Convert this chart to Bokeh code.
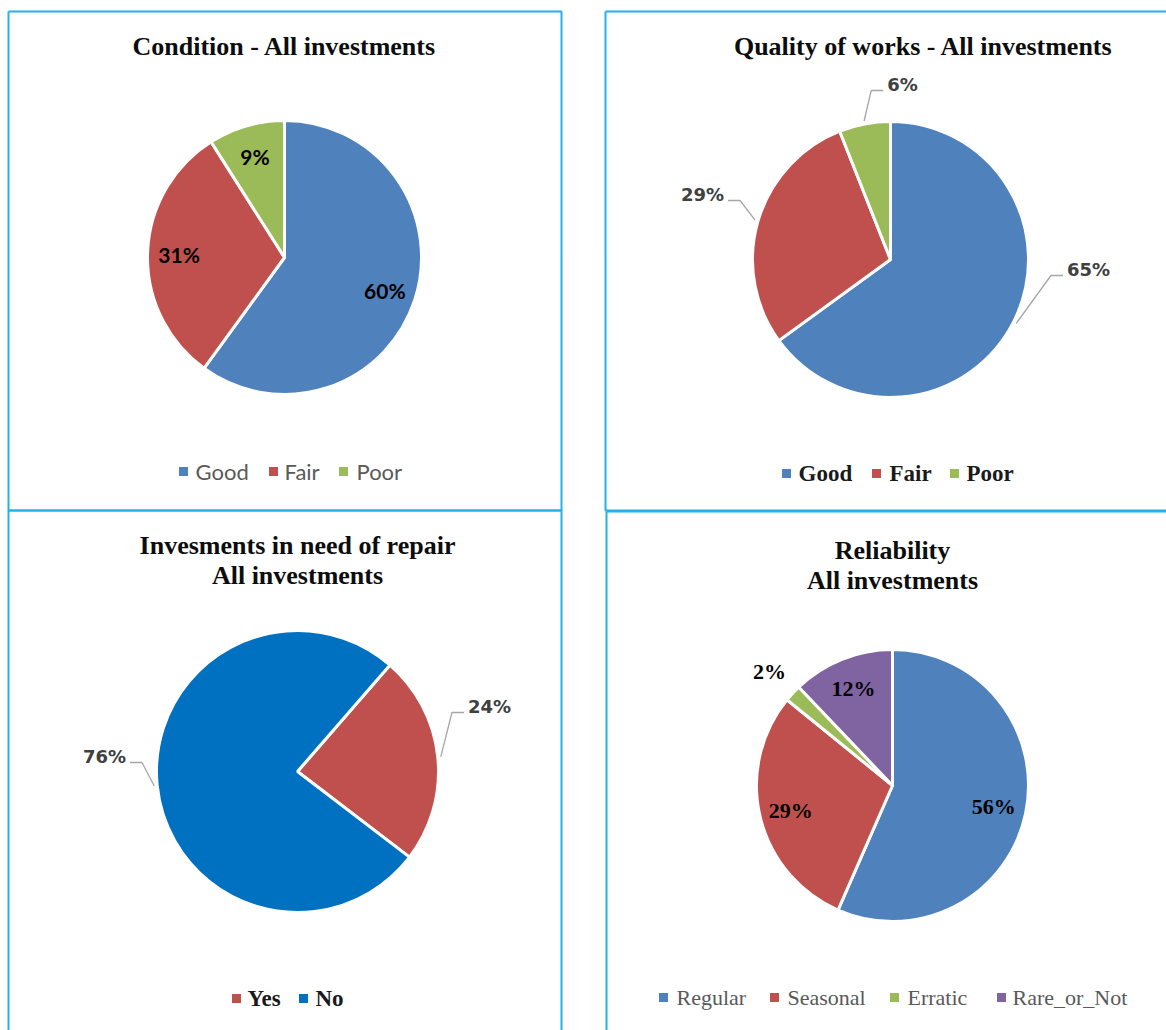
import math
from bokeh.plotting import figure
from bokeh.models import Range1d
from bokeh.core.properties import value
from bokeh.embed import file_html
from bokeh.resources import INLINE

# ---- data -------------------------------------------------------------
condition_labels = ["Good", "Fair", "Poor"]
condition_values = [60, 31, 9]

quality_labels = ["Good", "Fair", "Poor"]
quality_values = [65, 29, 6]

repair_labels = ["Yes", "No"]
repair_values = [24, 76]

reliability_labels = ["Regular", "Seasonal", "Erratic", "Rare_or_Not"]
reliability_values = [56, 29, 2, 12]

# ---- styling ----------------------------------------------------------
BLUE, RED, GREEN, PURPLE, DEEP_BLUE = "#4F81BD", "#C0504D", "#9BBB59", "#8064A2", "#0070C0"
FRAME = "#22B2E6"
W, H = 1166, 1030
SERIF = "Liberation Serif"
TITLE_SIZE = 26


def Y(v):
    """Page coordinates measured from the top."""
    return H - v


p = figure(width=W, height=H, x_range=Range1d(0, W), y_range=Range1d(0, H),
           output_backend="svg", toolbar_location=None, min_border=0)
p.axis.visible = False
p.grid.visible = False
p.outline_line_color = None
p.background_fill_color = "white"

# panel frames
for x0, y0, x1, y1 in [(8, 11, 561, 510), (605, 11, 1175, 510),
                       (8, 510, 561, 1040), (606, 511, 1175, 1040)]:
    p.line([x0, x0, x1, x1, x0], [Y(y0), Y(y1), Y(y1), Y(y0), Y(y0)],
           line_color=FRAME, line_width=2)


def pie(cx, cy, r, values, colors, start_deg=0.0):
    """Draw slices clockwise from 12 o'clock; returns mid-angles (deg, clockwise from top)."""
    total = float(sum(values))
    a = start_deg
    mids = []
    for v, c in zip(values, colors):
        span = 360.0 * v / total
        s = math.radians(90 - a)
        e = math.radians(90 - (a + span))
        p.wedge(x=cx, y=Y(cy), radius=r, start_angle=s, end_angle=e,
                direction="clock", fill_color=c, line_color="white", line_width=3)
        mids.append(a + span / 2)
        a += span
    return mids


def polar(cx, cy, dist, deg):
    t = math.radians(deg)
    return cx + dist * math.sin(t), cy - dist * math.cos(t)


def label(x, y, text, font, size, color="#000000", style="bold", align="center"):
    p.text(x=[x], y=[Y(y)], text=[text], text_font=value(font),
           text_font_size=f"{size}px", text_font_style=style, text_color=color,
           text_align=align, text_baseline="middle")


def legend(items, y, font, size, color, style):
    for sx, tx, name, c in items:
        p.scatter(x=[sx], y=[Y(y)], marker="square", size=9, fill_color=c,
                  line_color=None)
        label(tx, y, name, font, size, color, style, align="left")


def leader_labels(cx, cy, r, mids, texts, anchors, fs):
    for m, t, (lx, ly) in zip(mids, texts, anchors):
        side = 1 if lx > cx else -1
        half = ((len(t) - 1) * 0.696 * fs + 1.0 * fs) / 2
        end_x = lx - side * (half + 4)
        elb_x = end_x - side * 12
        ly_line = ly + 6
        sx, sy = polar(cx, cy, r + 3, m)
        p.line([sx, elb_x, end_x], [Y(sy), Y(ly_line), Y(ly_line)],
               line_color="#A6A6A6", line_width=1.3)
        label(lx, ly, t, "DejaVu Sans", fs, "#404040")


# ---- Condition --------------------------------------------------------
c1 = (284, 257, 137)
mids = pie(*c1, condition_values, [BLUE, RED, GREEN])
for m, v in zip(mids, condition_values):
    x, y = polar(c1[0], c1[1], 0.77 * c1[2], m)
    label(x, y, f"{v}%", "Lato", 21)
label(284, 46, "Condition - All investments", SERIF, TITLE_SIZE, "#0d0d0d")
legend([(183, 195, condition_labels[0], BLUE), (273, 284, condition_labels[1], RED),
        (343, 356, condition_labels[2], GREEN)], 471, "Lato", 22, "#595959", "normal")

# ---- Quality of works -------------------------------------------------
c2 = (890, 259, 138)
mids = pie(*c2, quality_values, [BLUE, RED, GREEN])
leader_labels(c2[0], c2[1], c2[2], mids, [f"{v}%" for v in quality_values],
              [(1088, 269), (702, 194), (902, 84)], 18)
label(923, 46, "Quality of works - All investments", SERIF, TITLE_SIZE, "#0d0d0d")
legend([(786, 798, quality_labels[0], BLUE), (876, 889, quality_labels[1], RED),
        (954, 966, quality_labels[2], GREEN)], 473, SERIF, 23, "#1a1a1a", "bold")

# ---- Investments in need of repair ------------------------------------
c3 = (297, 771, 141)
mids = pie(*c3, repair_values, [RED, DEEP_BLUE], start_deg=41)
leader_labels(c3[0], c3[1], c3[2], mids, [f"{v}%" for v in repair_values],
              [(489, 706), (104, 756)], 18)
label(297, 545, "Invesments in need of repair", SERIF, TITLE_SIZE, "#0d0d0d")
label(297, 575, "All investments", SERIF, TITLE_SIZE, "#0d0d0d")
legend([(236, 247, repair_labels[0], RED), (303, 315, repair_labels[1], DEEP_BLUE)],
       998, SERIF, 23, "#1a1a1a", "bold")

# ---- Reliability ------------------------------------------------------
c4 = (892, 785, 136)
mids = pie(*c4, reliability_values, [BLUE, RED, GREEN, PURPLE])
for m, v, k in zip(mids, reliability_values, [0.76, 0.77, 1.23, 0.77]):
    x, y = polar(c4[0], c4[1], k * c4[2], m)
    label(x, y, f"{v}%", SERIF, 22)
label(892, 550, "Reliability", SERIF, TITLE_SIZE, "#0d0d0d")
label(892, 580, "All investments", SERIF, TITLE_SIZE, "#0d0d0d")
legend([(663, 676, reliability_labels[0], BLUE), (774, 787, reliability_labels[1], RED),
        (894, 907, reliability_labels[2], GREEN), (1001, 1012, reliability_labels[3], PURPLE)],
       997, SERIF, 22, "#595959", "normal")

open("out.html", "w").write(file_html(p, INLINE))
